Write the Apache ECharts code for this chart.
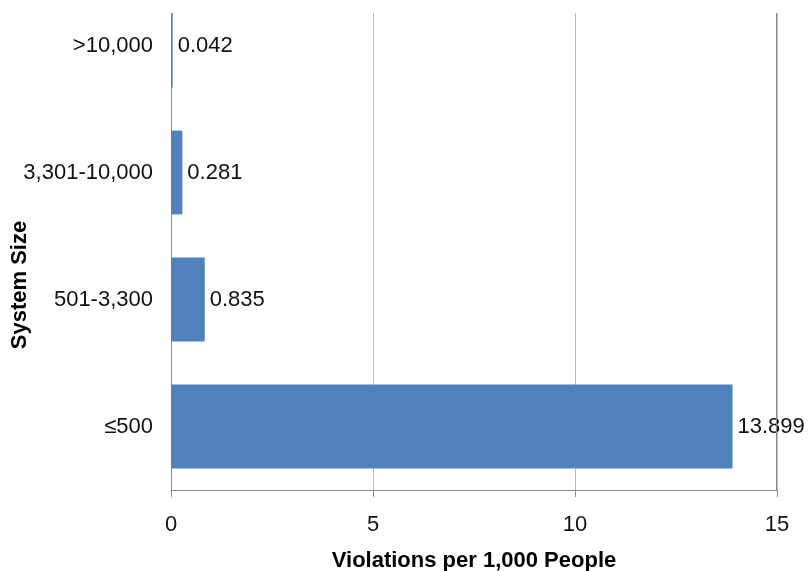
<!DOCTYPE html>
<html><head><meta charset="utf-8">
<script src="https://cdn.jsdelivr.net/npm/echarts@6/dist/echarts.min.js"></script>
<style>html,body{margin:0;padding:0;background:#fff}#c{width:809px;height:571px}</style>
</head><body><div id="c"></div>
<script>
const categories = ['≤500', '501-3,300', '3,301-10,000', '>10,000'];
const values = [13.899, 0.835, 0.281, 0.042];
const labels = ['13.899', '0.835', '0.281', '0.042'];
const xTicks = [0, 5, 10, 15];
const xTitle = 'Violations per 1,000 People';
const yTitle = 'System Size';

const chart = echarts.init(document.getElementById('c'), null, {renderer: 'canvas'});
const font = '"Liberation Sans", Arial, sans-serif';
chart.setOption({
  animation: false,
  grid: {left: 171, right: 32, top: -18, bottom: 81, containLabel: false, outerBoundsMode: 'none'},
  xAxis: {
    type: 'value', min: xTicks[0], max: xTicks[xTicks.length - 1], interval: 5,
    name: xTitle, nameLocation: 'middle', nameGap: 60,
    nameTextStyle: {fontFamily: font, fontSize: 22, fontWeight: 'bold', color: '#000'},
    axisLine: {show: true, lineStyle: {color: '#8c8c8c', width: 1}},
    axisTick: {show: true, length: 7, lineStyle: {color: '#8c8c8c'}},
    axisLabel: {fontFamily: font, fontSize: 22, color: '#111', margin: 24},
    splitLine: {show: true, lineStyle: {color: '#bdbdbd', width: 1}}
  },
  yAxis: {
    type: 'category', data: categories,
    axisLine: {show: true, lineStyle: {color: '#8c8c8c', width: 1}},
    axisTick: {show: false},
    axisLabel: {fontFamily: font, fontSize: 22, color: '#111', margin: 18}
  },
  series: [{
    type: 'bar', data: values, barCategoryGap: '34%',
    itemStyle: {color: '#4f81bd'},
    label: {show: true, position: 'right', distance: 5, fontFamily: font, fontSize: 22, color: '#111',
      formatter: p => labels[p.dataIndex]}
  }],
  graphic: [
    {type: 'rect', z: 100, shape: {x: 0, y: 0, width: 809, height: 13}, style: {fill: '#fff'}},
    {type: 'line', z: 101, shape: {x1: 776.5, y1: 13, x2: 776.5, y2: 490}, style: {stroke: '#8c8c8c', lineWidth: 1}},
    {type: 'text', z: 101, x: 20, y: 285, rotation: Math.PI / 2,
      style: {text: yTitle, fontFamily: font, fontSize: 22, fontWeight: 'bold', fill: '#000', align: 'center', verticalAlign: 'middle'}}
  ]
});
</script></body></html>
